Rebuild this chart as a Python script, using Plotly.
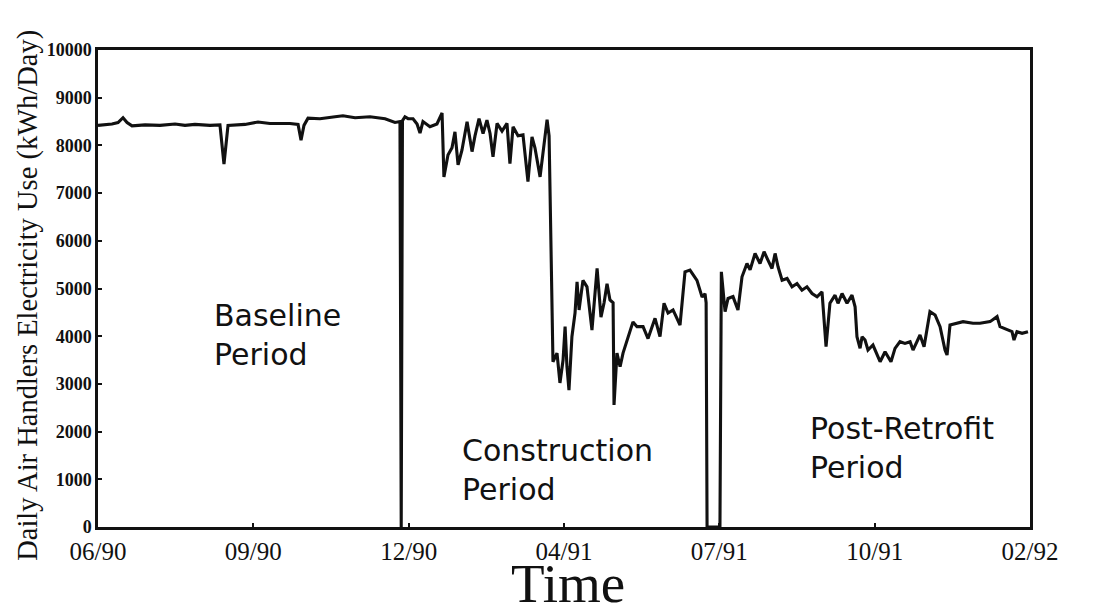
import plotly.graph_objects as go

# Day index (0 = start of 06/90), daily air-handler electricity use (kWh/day)
days = [
    0, 4.5, 9, 12.9, 16.1, 18.7, 21.9, 30.3, 39.9, 49.6, 56, 62.4, 72.1, 78.5, 81.1, 83.7,
    94.6, 103, 110.7, 123.6, 128.8, 130.7, 132.6, 135.2, 142.9, 152.6, 157.7, 165.5, 175.1,
    184.8, 191.2, 194.4, 195.2, 196.0,
    197.6, 199.6, 202.8, 205.4, 207.3, 209.2, 213.7, 218.2, 221.5, 222.7, 225.3, 227.9,
    229.8, 231.8, 234.3, 237.6, 240.8, 242.7, 245.3, 247.9, 250.4, 252.4, 254.3, 256.9,
    260.1, 263.3, 265.2, 267.2, 270.4, 273.6, 276.8, 279.4, 281.3, 284.6, 286.5, 289.1,
    290.4, 291.6, 292.9, 295.5, 297.4, 299.4, 300.7, 301.9, 303.2, 305.1, 307.1, 308.4,
    309.7, 312.2, 314.8, 318, 321.3, 323.8, 325.8, 327.7, 329.6, 331.6, 332.2, 334.1,
    336.1, 338, 341.2, 344.4, 347, 350.9, 354.1, 358.6, 361.8, 364.4, 367, 370.2, 374.7,
    377.9, 381.1, 385.6, 388.9, 390.8, 391.5, 392.1, 400.4, 401.3,
    403.7, 405.6, 408.8, 412, 414.6, 417.8, 419.8, 423, 426.2, 428.8, 431.3, 433.9, 435.9,
    437.8, 440.4, 443.6, 446.8, 450, 453.2, 456.4, 459.7, 462.9, 466.1, 468.7, 471.2,
    474.5, 476.4, 479, 482.2, 485.4, 487.4, 488.6, 490.6, 491.9, 493.8, 495.7, 498.9,
    503.5, 506.7, 510.5, 513.1, 516.3, 519.5, 522.8, 524.7, 529.2, 531.8, 535.6, 538.9,
    542.1, 545.3, 546.6, 548.5, 553, 556.9, 563.3, 567.8, 574.3, 578.8, 580.7, 585.2,
    588.4, 589.7, 591.6, 594.9, 598.7,
]
usage = [
    8420, 8430, 8450, 8480, 8580, 8480, 8410, 8430, 8420, 8450, 8420, 8440, 8420, 8430, 7610, 8420,
    8440, 8490, 8460, 8460, 8440, 8110, 8420, 8570, 8560, 8600, 8620, 8580, 8600,
    8560, 8480, 8500, 0, 8520,
    8600, 8560, 8560, 8450, 8260, 8500, 8390, 8450, 8680, 7340, 7800, 7950,
    8285, 7590, 7900, 8495, 7870, 8200, 8560, 8250, 8530, 8250, 7760, 8460,
    8300, 8460, 7620, 8390, 8200, 8220, 7240, 8180, 7950, 7340, 7900, 8540,
    8200, 5800, 3465, 3645, 3020, 3500, 4200, 3360, 2870, 3990, 4485, 5140,
    4550, 5170, 5035, 4130, 5420, 4400, 4700, 5100, 4760, 4700, 2560, 3645,
    3360, 3645, 3990, 4300, 4200, 4200, 3950, 4375, 3990, 4690, 4485, 4550, 4235,
    5350, 5385, 5170, 4820, 4890, 4700, 0, 0, 5350,
    4515, 4790, 4830, 4550, 5245, 5525, 5390, 5735, 5525, 5770, 5595, 5420, 5735,
    5455, 5175, 5210, 5035, 5105, 4965, 5035, 4895, 4825, 4930, 3780, 4690,
    4860, 4690, 4895, 4690, 4860, 4615, 3990, 3745, 3990, 3920, 3710, 3815,
    3465, 3675, 3465, 3745, 3885, 3850, 3885, 3710, 4025, 3780, 4515, 4445,
    4200, 3710, 3605, 4235, 4270, 4305, 4270, 4270, 4305, 4410, 4200, 4130,
    4095, 3920, 4095, 4060, 4095,
]

x_tick_vals = [0, 100, 200, 300, 400, 500, 600]
x_tick_text = ["06/90", "09/90", "12/90", "04/91", "07/91", "10/91", "02/92"]
y_tick_vals = [0, 1000, 2000, 3000, 4000, 5000, 6000, 7000, 8000, 9000, 10000]
y_tick_text = ["<b>%d</b>" % v for v in y_tick_vals]

period_labels = ["Baseline<br>Period", "Construction<br>Period", "Post-Retrofit<br>Period"]
period_x = [73.4, 233, 457]
period_y = [4025, 1195, 1655]

ink = "#111111"

fig = go.Figure()
fig.add_trace(go.Scatter(
    x=days, y=usage, mode="lines",
    line=dict(color=ink, width=3.1),
    showlegend=False, hoverinfo="skip",
))

for txt, px_, py_ in zip(period_labels, period_x, period_y):
    fig.add_annotation(
        x=px_, y=py_, xref="x", yref="y", text=txt, showarrow=False,
        xanchor="left", yanchor="middle", align="left",
        font=dict(family="DejaVu Sans", size=30, color=ink),
    )

fig.add_annotation(
    x=-0.076, y=0.485, xref="paper", yref="paper", textangle=-90,
    text="Daily Air Handlers Electricity Use (kWh/Day)", showarrow=False,
    xanchor="center", yanchor="middle",
    font=dict(family="Liberation Serif", size=28.5, color=ink),
)
fig.add_annotation(
    x=0.504, y=-0.1866, xref="paper", yref="paper", text="Time", showarrow=False,
    xanchor="center", yanchor="bottom",
    font=dict(family="Liberation Serif", size=55, color=ink),
)

# page body has an 8px margin, so the figure is shrunk and offset to compensate
fig.update_layout(
    width=1087, height=608,
    margin=dict(l=90, r=65, t=42, b=89),
    paper_bgcolor="white", plot_bgcolor="white",
    font=dict(family="Liberation Serif", color=ink),
)
fig.update_xaxes(
    range=[0, 600], tickvals=x_tick_vals, ticktext=x_tick_text,
    showgrid=False, zeroline=False,
    showline=True, linecolor=ink, linewidth=2.5, mirror=True,
    ticks="inside", ticklen=4, tickwidth=2, tickcolor=ink,
    tickfont=dict(family="Liberation Serif", size=25, color=ink),
)
fig.update_yaxes(
    range=[0, 10000], tickvals=y_tick_vals, ticktext=y_tick_text,
    showgrid=False, zeroline=False,
    showline=True, linecolor=ink, linewidth=2.5, mirror=True,
    ticks="inside", ticklen=4, tickwidth=2, tickcolor=ink,
    tickfont=dict(family="Liberation Serif", size=18, color=ink),
)

fig.write_html("out.html")
